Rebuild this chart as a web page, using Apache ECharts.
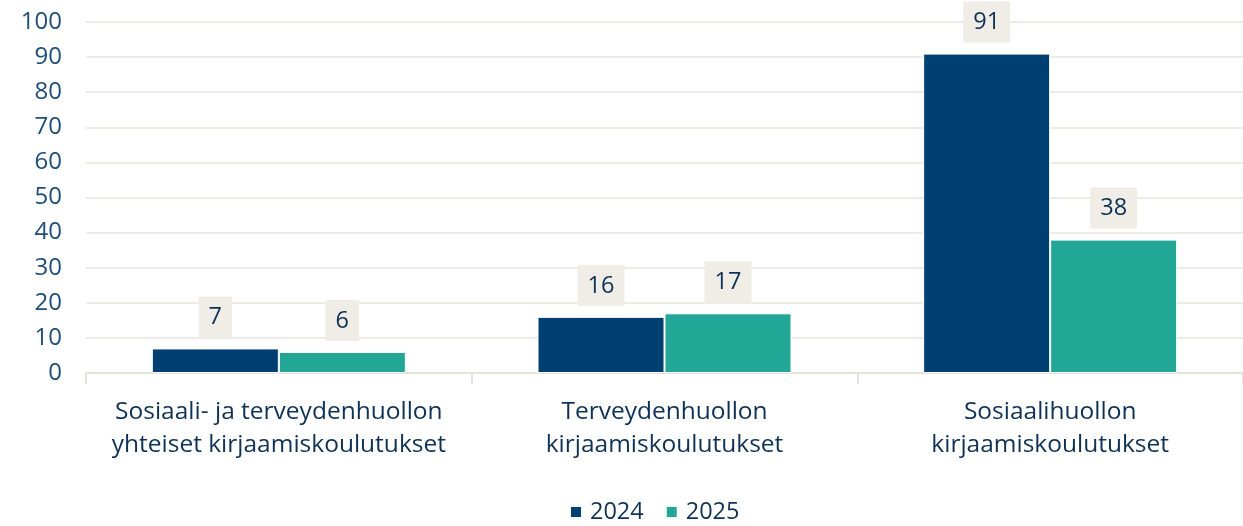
<!DOCTYPE html>
<html>
<head>
<meta charset="utf-8">
<script src="https://cdn.jsdelivr.net/npm/echarts@6/dist/echarts.min.js"></script>
<style>
  html, body { margin: 0; padding: 0; background: #ffffff; }
  #chart { width: 1243px; height: 526px; }
</style>
</head>
<body>
<div id="chart"></div>
<script>
// Training counts by category, two years
const categories = [
  'Sosiaali- ja terveydenhuollon\nyhteiset kirjaamiskoulutukset',
  'Terveydenhuollon\nkirjaamiskoulutukset',
  'Sosiaalihuollon\nkirjaamiskoulutukset'
];
const seriesNames = ['2024', '2025'];
const values2024 = [7, 16, 91];
const values2025 = [6, 17, 38];
const yTicks = { min: 0, max: 100, interval: 10 };

const FONT = '"Open Sans", Lato, sans-serif';
const TEXT_BLUE = '#1f4e79';
const LABEL_NAVY = '#0e3256';

const valueLabel = {
  show: true,
  position: 'top',
  distance: 11,
  fontFamily: FONT,
  fontSize: 23.5,
  lineHeight: 24,
  color: LABEL_NAVY,
  backgroundColor: '#f0ede6',
  padding: [9, 10, 8, 10]
};

const chart = echarts.init(document.getElementById('chart'), null, { renderer: 'canvas' });
chart.setOption({
  animation: false,
  backgroundColor: '#ffffff',
  textStyle: { fontFamily: FONT },
  grid: { left: 86, top: 22, bottom: 153, width: 1164, containLabel: false },
  legend: {
    data: seriesNames,
    bottom: -3,
    left: 564,
    itemWidth: 12,
    itemHeight: 12,
    itemGap: 21,
    icon: 'rect',
    textStyle: { fontFamily: FONT, fontSize: 23.5, color: LABEL_NAVY, padding: [0, 0, 0, 3] }
  },
  xAxis: {
    type: 'category',
    data: categories,
    axisLine: { show: true, lineStyle: { color: '#e6e2da', width: 2 } },
    axisTick: { show: true, alignWithLabel: false, length: 11, lineStyle: { color: '#e6e2da', width: 2 } },
    axisLabel: {
      interval: 0,
      margin: 23,
      fontFamily: FONT,
      fontSize: 24.5,
      lineHeight: 33,
      color: LABEL_NAVY
    },
    splitLine: { show: false }
  },
  yAxis: {
    type: 'value',
    min: yTicks.min,
    max: yTicks.max,
    interval: yTicks.interval,
    axisLine: { show: false },
    axisTick: { show: false },
    axisLabel: { margin: 24, fontFamily: FONT, fontSize: 24, color: TEXT_BLUE },
    splitLine: { lineStyle: { color: '#efebe4', width: 2 } }
  },
  series: [
    {
      name: seriesNames[0],
      type: 'bar',
      data: values2024,
      barWidth: 127,
      barGap: '0%',
      itemStyle: { color: '#003f72', borderColor: '#ffffff', borderWidth: 1 },
      label: valueLabel
    },
    {
      name: seriesNames[1],
      type: 'bar',
      data: values2025,
      barWidth: 127,
      barGap: '0%',
      itemStyle: { color: '#22a695', borderColor: '#ffffff', borderWidth: 1 },
      label: valueLabel
    }
  ]
});
</script>
</body>
</html>
